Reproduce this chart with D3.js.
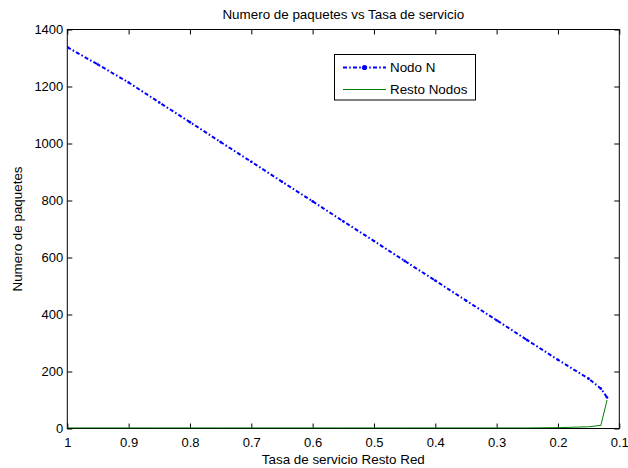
<!DOCTYPE html>
<html>
<head>
<meta charset="utf-8">
<script src="https://cdn.jsdelivr.net/npm/d3@7"></script>
<style>
  html, body { margin: 0; padding: 0; background: #fff; }
  svg { display: block; }
  text { font-family: "Liberation Sans", Arial, Helvetica, sans-serif; fill: #000; }
</style>
</head>
<body>
<svg id="chart" width="628" height="468"></svg>
<script>
// Service rate of the rest of the network (x axis, drawn from 1 down to 0.1)
const tasa = [1.00, 0.95, 0.90, 0.85, 0.80, 0.75, 0.70, 0.65, 0.60, 0.55,
              0.50, 0.45, 0.40, 0.35, 0.30, 0.25, 0.20, 0.15, 0.13, 0.12];
// Packets queued at node N
const nodoN = [1338, 1277, 1214, 1144, 1075, 1005, 936, 866, 797, 727,
               658, 588, 519, 449, 380, 310, 241, 175, 140, 109];
// Packets queued at the remaining nodes
const restoNodos = [2, 2, 2, 2, 2, 2, 2, 2, 2, 2,
                    2, 2, 2, 2, 2, 2, 3, 6, 11, 100];

const xTicks = [1, 0.9, 0.8, 0.7, 0.6, 0.5, 0.4, 0.3, 0.2, 0.1];
const yTicks = [0, 200, 400, 600, 800, 1000, 1200, 1400];

const svg = d3.select("#chart");
const plot = { left: 67.3, right: 619.3, top: 29.5, bottom: 428.5 };

const x = d3.scaleLinear().domain([1, 0.1]).range([plot.left, plot.right]);
const y = d3.scaleLinear().domain([0, 1400]).range([plot.bottom, plot.top]);

const tickFont = 13;
const labelFont = 13.4;
const tickLen = 5;

// Inward ticks on all four sides of the box
const g = svg.append("g");
const fmtX = d => (d === 1 ? "1" : d3.format(".1f")(d));
const fmtY = d3.format("d");

const bottomAxis = d3.axisBottom(x).tickValues(xTicks).tickSize(-tickLen).tickPadding(9).tickFormat(fmtX);
const topAxis = d3.axisTop(x).tickValues(xTicks).tickSize(-tickLen).tickFormat("");
const leftAxis = d3.axisLeft(y).tickValues(yTicks).tickSize(-tickLen).tickPadding(4).tickFormat(fmtY);
const rightAxis = d3.axisRight(y).tickValues(yTicks).tickSize(-tickLen).tickFormat("");

function styleAxis(sel) {
  sel.select(".domain").remove();
  sel.selectAll(".tick line").attr("stroke", "#000").attr("stroke-width", 1);
  sel.selectAll(".tick text").attr("font-size", tickFont)
     .attr("font-family", '"Liberation Sans", Arial, sans-serif').attr("fill", "#000");
}

g.append("g").attr("transform", `translate(0,${plot.bottom})`).call(bottomAxis).call(styleAxis);
g.append("g").attr("transform", `translate(0,${plot.top})`).call(topAxis).call(styleAxis);
g.append("g").attr("transform", `translate(${plot.left},0)`).call(leftAxis).call(styleAxis);
g.append("g").attr("transform", `translate(${plot.right},0)`).call(rightAxis).call(styleAxis);

// Box around the axes
svg.append("rect")
  .attr("x", plot.left).attr("y", plot.top)
  .attr("width", plot.right - plot.left).attr("height", plot.bottom - plot.top)
  .attr("fill", "none").attr("stroke", "#000").attr("stroke-width", 1);

svg.append("clipPath").attr("id", "plotclip")
  .append("rect").attr("x", plot.left).attr("y", plot.top - 2)
  .attr("width", plot.right - plot.left).attr("height", plot.bottom - plot.top + 2);

const layer = svg.append("g").attr("clip-path", "url(#plotclip)");

// Rest of the nodes: thin green solid line
layer.append("path")
  .datum(d3.zip(tasa, restoNodos))
  .attr("fill", "none").attr("stroke", "#008000").attr("stroke-width", 1)
  .attr("d", d3.line().x(d => x(d[0])).y(d => y(d[1])));

// Node N: blue dash-dot line with point markers
layer.append("path")
  .datum(d3.zip(tasa, nodoN))
  .attr("fill", "none").attr("stroke", "#0000ff").attr("stroke-width", 2)
  .attr("stroke-dasharray", "4,2.2,1.6,2.2")
  .attr("d", d3.line().x(d => x(d[0])).y(d => y(d[1])));

layer.selectAll("circle.pt")
  .data(d3.zip(tasa, nodoN))
  .join("circle").attr("class", "pt")
  .attr("cx", d => x(d[0])).attr("cy", d => y(d[1]))
  .attr("r", 1.3).attr("fill", "#0000ff");

// Title and axis labels
svg.append("text")
  .attr("x", (plot.left + plot.right) / 2).attr("y", 18.5)
  .attr("text-anchor", "middle").attr("font-size", labelFont)
  .text("Numero de paquetes vs Tasa de servicio");

svg.append("text")
  .attr("x", (plot.left + plot.right) / 2).attr("y", 463.5)
  .attr("text-anchor", "middle").attr("font-size", labelFont)
  .text("Tasa de servicio Resto Red");

svg.append("text")
  .attr("transform", `translate(21.5,${(plot.top + plot.bottom) / 2}) rotate(-90)`)
  .attr("text-anchor", "middle").attr("font-size", labelFont)
  .text("Numero de paquetes");

// Legend
const legend = svg.append("g");
legend.append("rect")
  .attr("x", 334.5).attr("y", 54.5).attr("width", 141).attr("height", 45.5)
  .attr("fill", "#fff").attr("stroke", "#000").attr("stroke-width", 1);

legend.append("line")
  .attr("x1", 343).attr("x2", 386).attr("y1", 67.5).attr("y2", 67.5)
  .attr("stroke", "#0000ff").attr("stroke-width", 2).attr("stroke-dasharray", "4,2.2,1.6,2.2");
legend.append("circle").attr("cx", 364.5).attr("cy", 67.5).attr("r", 2.6).attr("fill", "#0000ff");
legend.append("text").attr("x", 390).attr("y", 72).attr("font-size", labelFont).text("Nodo N");

legend.append("line")
  .attr("x1", 343).attr("x2", 386).attr("y1", 89.5).attr("y2", 89.5)
  .attr("stroke", "#008000").attr("stroke-width", 1);
legend.append("text").attr("x", 390).attr("y", 94).attr("font-size", labelFont).text("Resto Nodos");
</script>
</body>
</html>
